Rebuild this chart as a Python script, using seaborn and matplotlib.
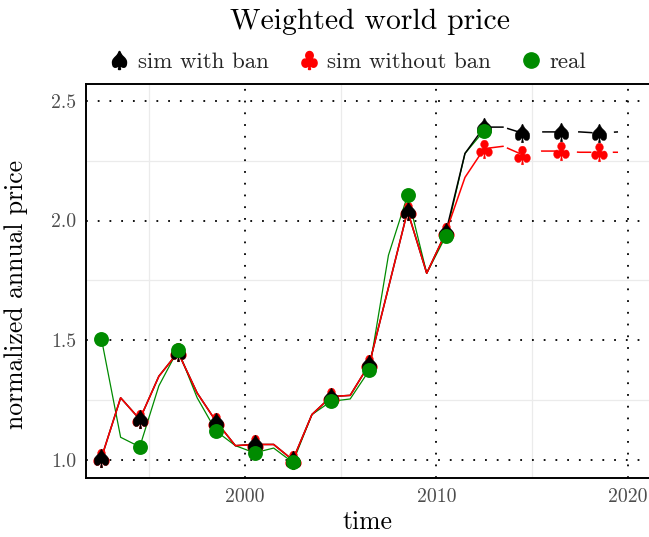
import matplotlib
matplotlib.use("Agg")
import matplotlib.pyplot as plt
import numpy as np
import pandas as pd
import seaborn as sns
from matplotlib.lines import Line2D

# ---------------- data ----------------
years = [1992.5, 1993.5, 1994.5, 1995.5, 1996.5, 1997.5, 1998.5, 1999.5,
         2000.5, 2001.5, 2002.5, 2003.5, 2004.5, 2005.5, 2006.5, 2007.5,
         2008.5, 2009.5, 2010.5, 2011.5, 2012.5, 2013.5, 2014.5, 2015.5,
         2016.5, 2017.5, 2018.5, 2019.5]
sim_with_ban = [1.01, 1.26, 1.17, 1.35, 1.45, 1.28, 1.16, 1.06,
                1.065, 1.065, 1.00, 1.19, 1.265, 1.27, 1.40, 1.72,
                2.04, 1.78, 1.95, 2.28, 2.39, 2.39, 2.365, 2.37,
                2.37, 2.37, 2.365, 2.37]
sim_without_ban = [1.01, 1.26, 1.17, 1.35, 1.45, 1.28, 1.16, 1.06,
                   1.065, 1.065, 1.00, 1.19, 1.265, 1.27, 1.40, 1.72,
                   2.04, 1.78, 1.95, 2.18, 2.30, 2.31, 2.275, 2.29,
                   2.29, 2.285, 2.285, 2.285]
real_years = [1992.5, 1993.5, 1994.5, 1995.5, 1996.5, 1997.5, 1998.5, 1999.5,
              2000.5, 2001.5, 2002.5, 2003.5, 2004.5, 2005.5, 2006.5, 2007.5,
              2008.5, 2009.5, 2010.5, 2011.5, 2012.5]
real = [1.505, 1.095, 1.055, 1.31, 1.46, 1.26, 1.12, 1.06,
        1.03, 1.05, 0.99, 1.19, 1.245, 1.255, 1.375, 1.855,
        2.105, 1.78, 1.935, 2.28, 2.375]
last_real_year = 2013.5          # simulated lines are dashed after this year
x_ticks = [2000, 2010, 2020]
x_minor = [1995, 2005, 2015]
y_ticks = [1.0, 1.5, 2.0, 2.5]
y_minor = [1.25, 1.75, 2.25]
series_labels = ["sim with ban", "sim without ban", "real"]

sim = pd.DataFrame({"year": years, "with": sim_with_ban, "without": sim_without_ban})
sim["idx"] = range(len(sim))
obs = pd.DataFrame({"year": real_years, "real": real})
obs["idx"] = range(len(obs))

# ---------------- style ----------------
sns.set_style("white")
plt.rcParams["font.family"] = ["cmr10", "DejaVu Serif"]
plt.rcParams["mathtext.fontset"] = "cm"
plt.rcParams["axes.formatter.use_mathtext"] = True

W, H = 649, 537
fig = plt.figure(figsize=(W / 100, H / 100), dpi=100)
ax = fig.add_axes([86 / W, 1 - 478 / H, (W - 86) / W, (478 - 84) / H])

GREEN = "#008B00"
lw_main = 1.1

# light minor grid
for xv in x_minor:
    ax.axvline(xv, color="#ebebeb", lw=0.9, zorder=0)
for yv in y_minor:
    ax.axhline(yv, color="#ebebeb", lw=0.9, zorder=0)
# dotted major reference lines
for xv in x_ticks:
    ax.axvline(xv, color="black", lw=1.3, ls=(0, (1, 5.5)), zorder=1)
for yv in y_ticks:
    ax.axhline(yv, color="black", lw=1.3, ls=(0, (1, 5.5)), zorder=1)

solid = sim[sim["year"] <= last_real_year]
dashed = sim[sim["year"] >= last_real_year]
dash_style = (20.9, (9.5, 14.0))

sns.lineplot(data=obs, x="year", y="real", color=GREEN, lw=0.9, ax=ax, zorder=2)
sns.lineplot(data=solid, x="year", y="with", color="black", lw=lw_main, ax=ax, zorder=3)
sns.lineplot(data=dashed, x="year", y="with", color="black", lw=lw_main, ls=dash_style, ax=ax, zorder=3)
sns.lineplot(data=solid, x="year", y="without", color="red", lw=lw_main, ax=ax, zorder=4)
sns.lineplot(data=dashed, x="year", y="without", color="red", lw=lw_main, ls=dash_style, ax=ax, zorder=4)

msim = sim[sim["idx"] % 2 == 0]
mobs = obs[obs["idx"] % 2 == 0]
sns.scatterplot(data=msim, x="year", y="without", marker=r"$\clubsuit$", s=180,
                color="red", edgecolor="red", linewidth=0.3, ax=ax, zorder=5)
sns.scatterplot(data=msim, x="year", y="with", marker=r"$\spadesuit$", s=180,
                color="black", edgecolor="black", linewidth=0.3, ax=ax, zorder=6)
sns.scatterplot(data=mobs, x="year", y="real", marker="o", s=115,
                color=GREEN, edgecolor=GREEN, linewidth=0, ax=ax, zorder=7)

ax.set_xlim(1991.69, 2021.12)
ax.set_ylim(0.925, 2.570)
ax.set_xticks(x_ticks)
ax.set_xticklabels([str(v) for v in x_ticks])
ax.set_yticks(y_ticks)
ax.set_yticklabels([f"{v:.1f}" for v in y_ticks])
ax.tick_params(axis="both", length=4, width=0.9, color="#333333",
               labelcolor="#4d4d4d", labelsize=14.3, pad=3)
for s in ["left", "bottom", "top"]:
    ax.spines[s].set_color("black")
    ax.spines[s].set_linewidth(1.4)
ax.spines["right"].set_visible(False)

ax.set_xlabel("time", fontsize=18.5, color="black", labelpad=3)
ax.set_ylabel("normalized annual price", fontsize=18.5, color="black")
ax.yaxis.set_label_coords(-(86 - 28) / (W - 86), 0.467)

fig.text(370 / W, 1 - 22 / H, "Weighted world price", ha="center", va="center",
         fontsize=21.4, color="black")

handles = [
    Line2D([], [], marker=r"$\spadesuit$", color="black", ls="none", markersize=13),
    Line2D([], [], marker=r"$\clubsuit$", color="red", ls="none", markersize=13),
    Line2D([], [], marker="o", color=GREEN, ls="none", markersize=11),
]
fig.legend(handles, series_labels, loc="center", bbox_to_anchor=(347 / W, 1 - 62 / H),
           ncol=3, frameon=False, fontsize=16.5, handlelength=1.0,
           handletextpad=0.3, columnspacing=1.25)

fig.savefig("out.png", dpi=100)
